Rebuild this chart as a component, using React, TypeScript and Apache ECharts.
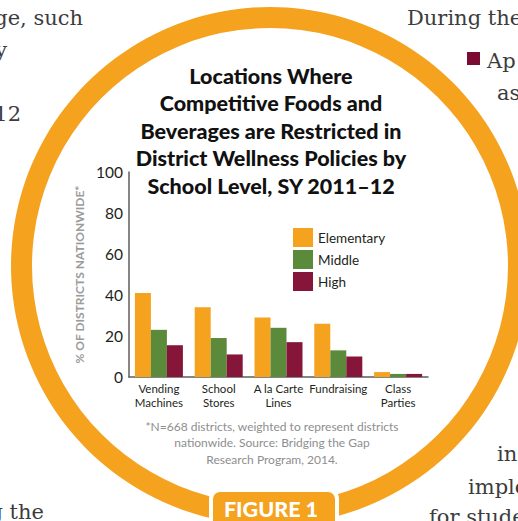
import React, { useEffect, useRef } from "react";
import * as echarts from "echarts";

const categories = ["Vending\nMachines", "School\nStores", "A la Carte\nLines", "Fundraising", "Class\nParties"];
const seriesNames = ["Elementary", "Middle", "High"];
const elementary = [41, 34, 29, 26, 2.4];
const middle = [23, 19, 24, 13, 1.5];
const high = [15.5, 11, 17, 10, 1.5];
const yMin = 0;
const yMax = 100;
const yInterval = 20;

const titleText = "Locations Where\nCompetitive Foods and\nBeverages are Restricted in\nDistrict Wellness Policies by\nSchool Level, SY 2011\u201312";
const footText = "*N=668 districts, weighted to represent districts\nnationwide. Source: Bridging the Gap\nResearch Program, 2014.";
const yName = "% OF DISTRICTS NATIONWIDE*";

const ORANGE = "#F5A21F";
const GREEN = "#5B8A3B";
const MAROON = "#861639";
const FONT = "Lato, 'Open Sans', sans-serif";
const SERIF = "'DejaVu Serif', serif";

function bgText(text: string, x: number, y: number, align: string) {
  return {
    type: "text",
    x,
    y,
    z: 1,
    style: {
      text,
      fill: "#3c3c3c",
      font: `300 21px ${SERIF}`,
      textAlign: align,
      align,
      textVerticalAlign: "bottom",
      verticalAlign: "bottom",
    },
  };
}

export default function App() {
  const ref = useRef<HTMLDivElement>(null);
  useEffect(() => {
    if (!ref.current) return;
    const chart = echarts.init(ref.current, undefined, { renderer: "svg" });
    const bars = [elementary, middle, high].map((d, i) => ({
      name: seriesNames[i],
      type: "bar",
      data: d,
      barWidth: 16,
      barGap: "0%",
      itemStyle: { color: [ORANGE, GREEN, MAROON][i] },
    }));
    chart.setOption({
      animation: false,
      backgroundColor: "#ffffff",
      grid: { left: 129, right: 90, top: 172, bottom: 144, containLabel: false },
      legend: {
        data: seriesNames,
        orient: "vertical",
        left: 293,
        top: 228,
        padding: 0,
        itemWidth: 20,
        itemHeight: 19,
        itemGap: 3,
        icon: "rect",
        textStyle: { fontFamily: FONT, fontSize: 13.5, color: "#231f20" },
      },
      xAxis: {
        type: "category",
        data: categories,
        axisLine: { lineStyle: { color: "#5e5e5e", width: 1.5 } },
        axisTick: { show: false },
        axisLabel: { fontFamily: FONT, fontSize: 11.5, lineHeight: 13.5, color: "#231f20", margin: 5, interval: 0 },
      },
      yAxis: {
        type: "value",
        min: yMin,
        max: yMax,
        interval: yInterval,
        name: yName,
        nameLocation: "middle",
        nameRotate: 90,
        nameGap: 33,
        nameTextStyle: { fontFamily: FONT, fontSize: 12, fontWeight: "bold", color: "#9b9b9b" },
        axisLine: { show: true, lineStyle: { color: "#5e5e5e", width: 1.5 } },
        axisTick: { show: false },
        splitLine: { show: false },
        axisLabel: { fontFamily: FONT, fontSize: 15.5, color: "#231f20", margin: 6 },
      },
      series: bars,
      graphic: [
        {
          type: "ring",
          z: 0,
          shape: { cx: 270, cy: 266, r: 259, r0: 238 },
          style: { fill: ORANGE },
        },
        {
          type: "text",
          x: 271,
          y: 62,
          z: 5,
          style: {
            text: titleText,
            fill: "#111111",
            font: `900 21.5px ${FONT}`,
            lineHeight: 27.5,
            textAlign: "center",
            align: "center",
            textVerticalAlign: "top",
            verticalAlign: "top",
          },
        },
        {
          type: "text",
          x: 272,
          y: 418,
          z: 5,
          style: {
            text: footText,
            fill: "#8e8e8e",
            font: `12px ${FONT}`,
            lineHeight: 16.5,
            textAlign: "center",
            align: "center",
            textVerticalAlign: "top",
            verticalAlign: "top",
          },
        },
        {
          type: "rect",
          z: 6,
          shape: { x: 211, y: 490, width: 126, height: 44, r: 9 },
          style: { fill: ORANGE, stroke: "#ffffff", lineWidth: 4 },
        },
        {
          type: "text",
          x: 271,
          y: 509,
          z: 7,
          style: {
            text: "FIGURE 1",
            fill: "#ffffff",
            font: `900 21.5px ${FONT}`,
            textAlign: "center",
            align: "center",
            textVerticalAlign: "middle",
            verticalAlign: "middle",
          },
        },
        bgText("ge, such", 83, 28, "right"),
        bgText("y", 7, 60, "right"),
        bgText("12", 21, 124, "right"),
        bgText("g the", 44, 522, "right"),
        bgText("During the", 407, 28, "left"),
        bgText("Ap", 487, 71, "left"),
        bgText("as", 497, 103, "left"),
        bgText("in", 497, 464, "left"),
        bgText("imple", 468, 497, "left"),
        bgText("for stude", 429, 527, "left"),
        {
          type: "rect",
          z: 1,
          shape: { x: 467, y: 52, width: 13, height: 13 },
          style: { fill: "#7c0b34" },
        },
      ],
    });
    return () => chart.dispose();
  }, []);
  return (
    <div
      ref={ref}
      style={{ position: "fixed", left: 0, top: 0, width: 518, height: 521, background: "#fff" }}
    />
  );
}
